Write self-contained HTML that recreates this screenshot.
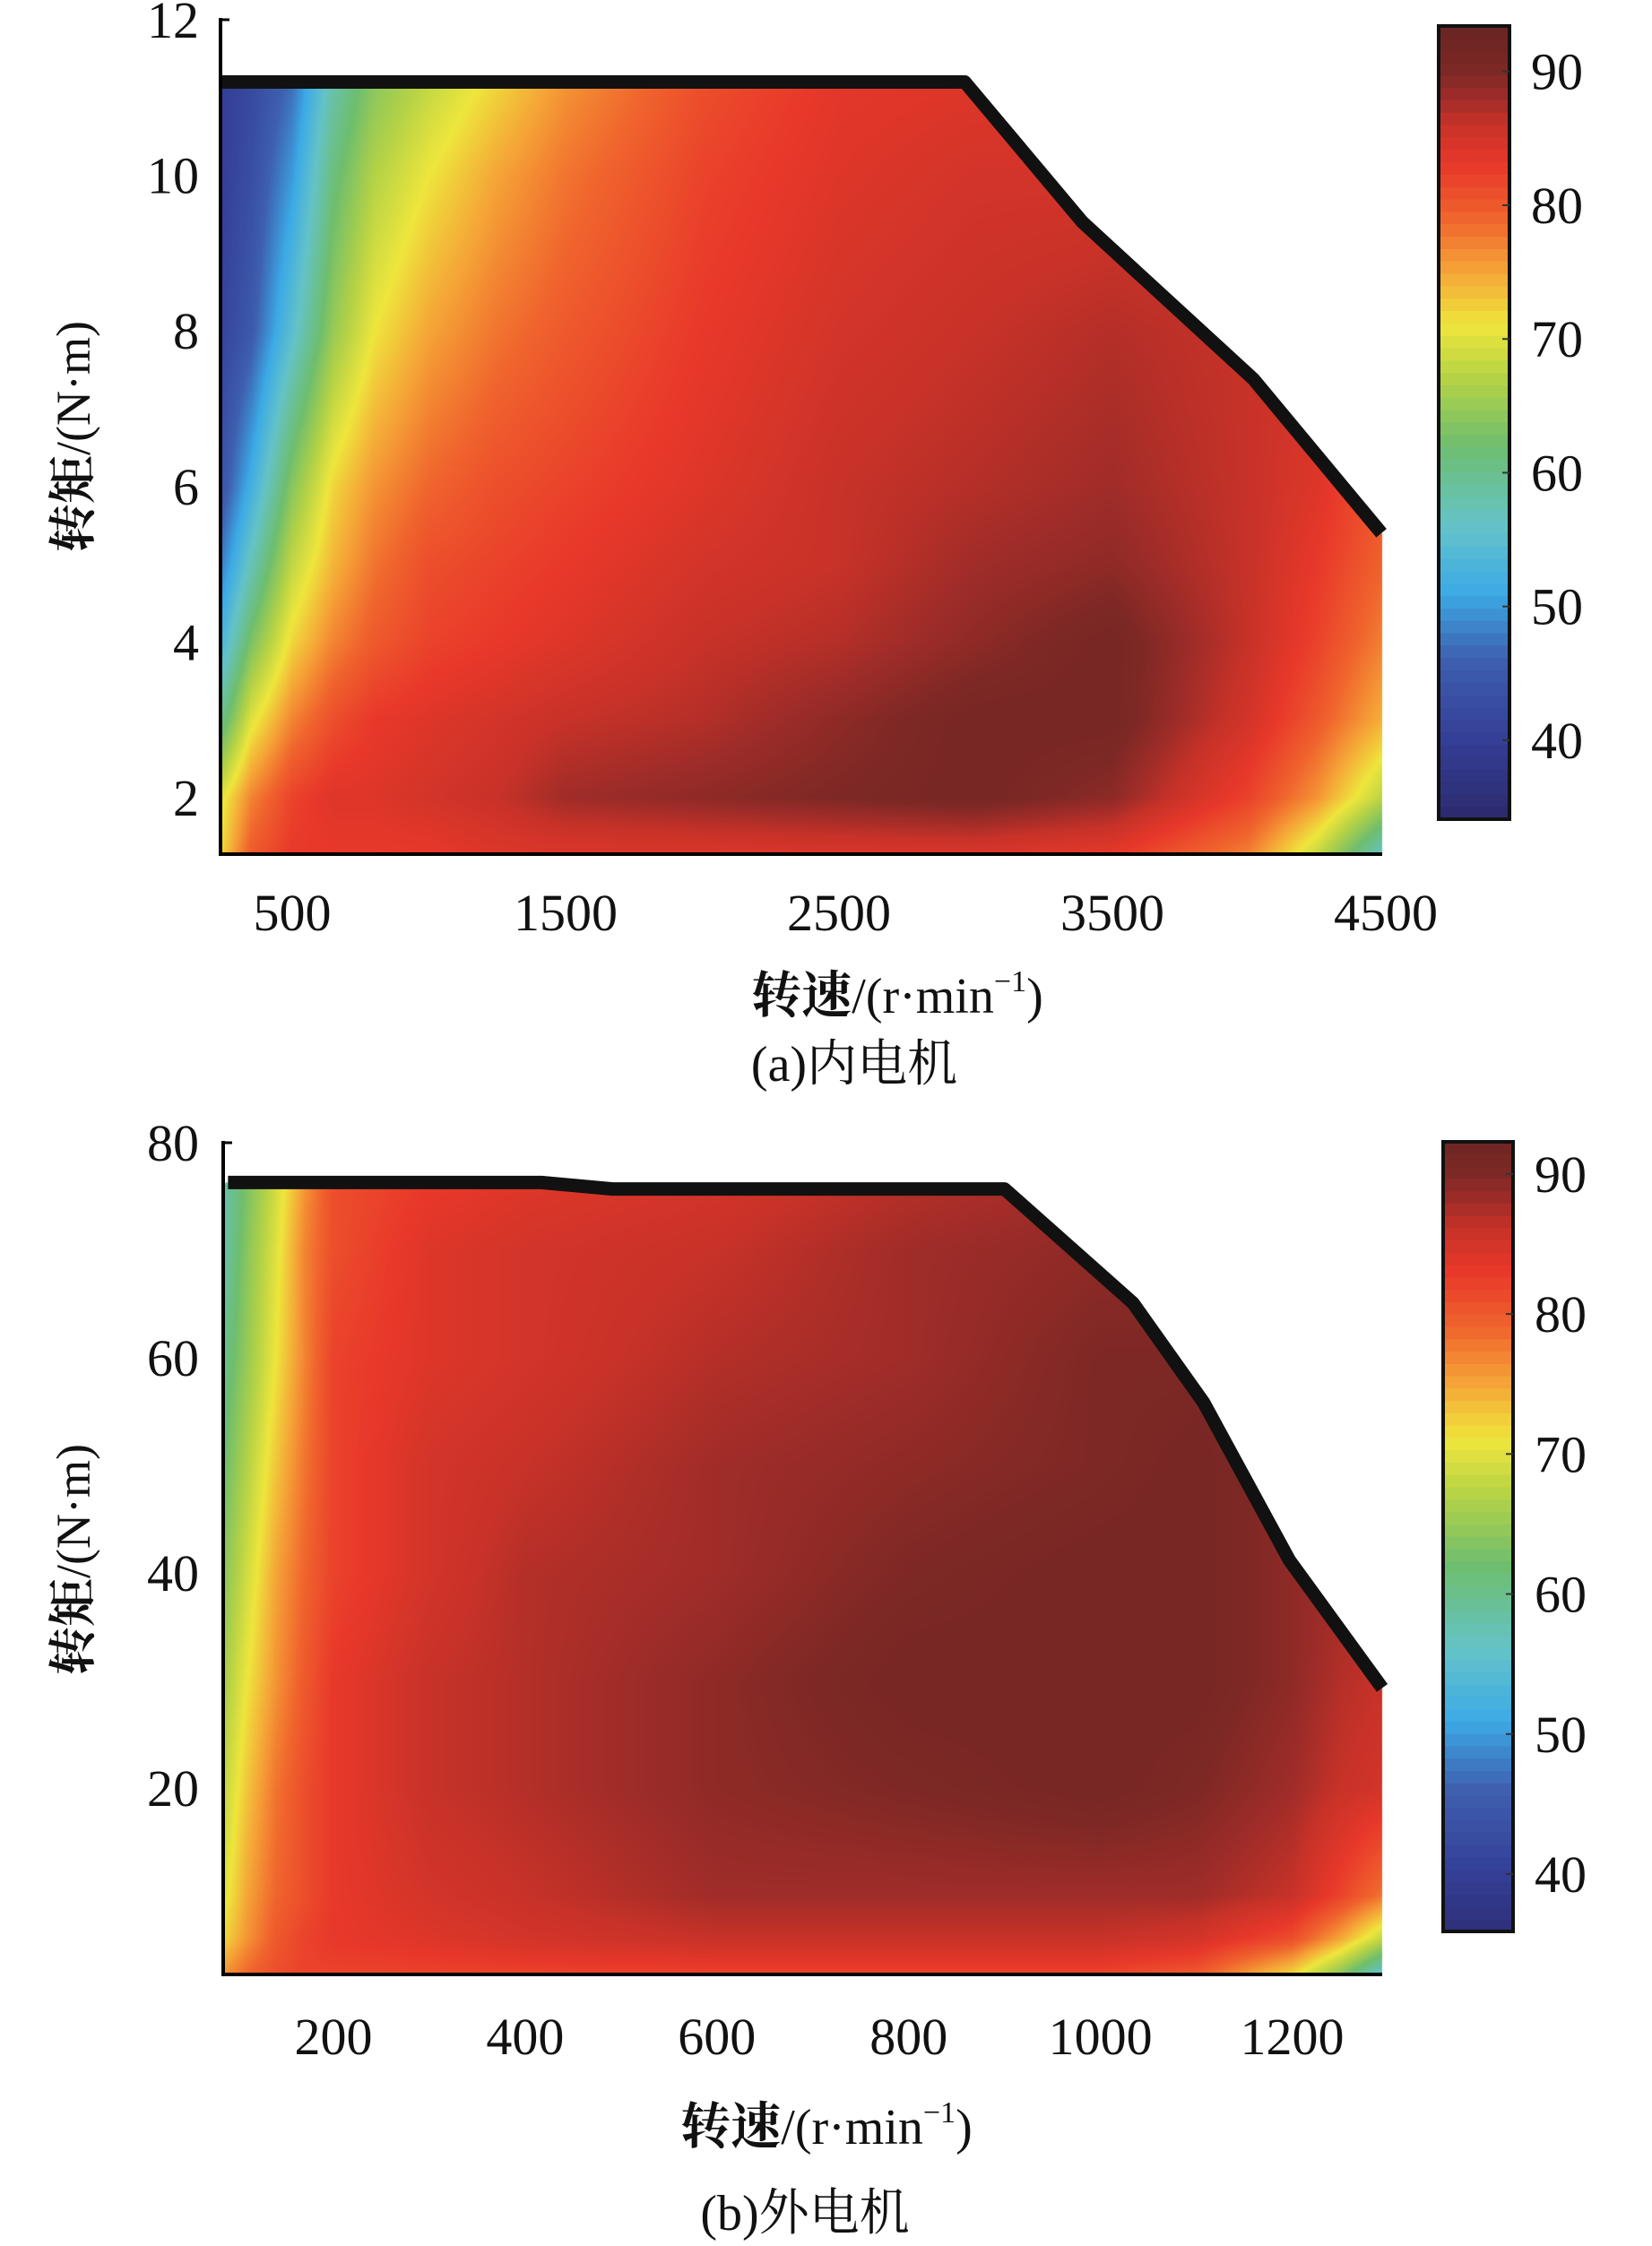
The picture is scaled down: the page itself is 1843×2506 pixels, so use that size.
<!DOCTYPE html>
<html><head><meta charset="utf-8">
<style>
html,body{margin:0;padding:0;background:#fff;}
body{width:1843px;height:2506px;position:relative;overflow:hidden;font-family:"Liberation Serif","Noto Serif CJK SC",serif;}
canvas{position:absolute;left:0;top:0;}
svg{position:absolute;left:0;top:0;}
</style></head>
<body>
<canvas id="cv" width="1843" height="2506"></canvas>
<svg id="sv" width="1843" height="2506"></svg>
<script>
// ---------- Panel (a) data ----------
const aSpeeds = [240,350,500,650,800,1000,1250,1500,2000,2500,3000,3500,4000,4250,4500];
const aTorques = [11.2, 10, 8, 6, 5, 4, 3, 2, 1.25];
const aEff = [
 [40,42,47,58,64,68,72,76,81,83.5,84,84,84,84,84],
 [40,43,50,61,67,71,75,78,82,84,85,85,85,85,85],
 [41,45,55,65,71,75,78,80,83,85,86,87,86,85,84],
 [44,52,64,72,76,79,81,82,84,86,87,88,86,84,80],
 [48,57,68,74,78,81,82,83,85,86,88,89,86,83,79],
 [53,63,72,77,80,82,83,84,86,87,89,91,86,82,77],
 [60,70,77,81,83,84,85,86,87,89,91,91,85,80,74],
 [70,77,82,84,84,85,86,88,89,90,91,89,82,76,67],
 [72,80,83,83,83,83,84,84,84,84,84,83,77,68,55]
];
const aBoundSpeed = [240, 2960, 3390, 4016, 4484];
const aBoundTorque = [11.2, 11.2, 9.4, 7.38, 5.4];
const aXTicks = [500, 1500, 2500, 3500, 4500];
const aYTicks = [2, 4, 6, 8, 10, 12];
const aCbTicks = [40, 50, 60, 70, 80, 90];

// ---------- Panel (b) data ----------
const bSpeeds = [86,110,140,170,200,300,400,600,800,1000,1100,1200,1250,1294];
const bTorques = [76, 70, 60, 50, 40, 30, 20, 10, 6, 2.7];
const bEff = [
 [58,63,69,76,81,83,84,85,87,88,88,88,88,88],
 [58,64,70,77,81,84,85,86,88,89,89,89,89,89],
 [60,65,71,77,82,84,85,87,88,90,90,89,89,89],
 [62,67,73,78,82,85,86,88,89,90,91,89,88,88],
 [64,69,75,79,82,85,87,88,90,91,91,89,88,88],
 [66,71,76,80,83,86,87,89,91,91,91,89,87,86],
 [68,73,78,81,83,86,87,89,90,91,90,88,86,85],
 [70,75,79,81,83,85,86,88,88,88,88,86,82,78],
 [72,76,80,82,83,84,85,86,86,86,85,81,75,68],
 [76,79,81,82,82,82,82,82,82,82,80,72,64,55]
];
const bBoundSpeed = [90, 417, 491, 900, 1034, 1108, 1197, 1294];
const bBoundTorque = [76.3, 76.3, 75.7, 75.7, 65.1, 55.8, 41.2, 29.3];
const bXTicks = [200, 400, 600, 800, 1000, 1200];
const bYTicks = [20, 40, 60, 80];
const bCbTicks = [40, 50, 60, 70, 80, 90];

// ---------- colormap ----------
const cmStops = [
 [33,[42,38,100]],[40,[52,62,150]],[46,[62,95,175]],[51,[60,170,230]],[56,[100,195,200]],
 [62,[110,190,110]],[67,[180,210,70]],[71,[238,230,60]],[75,[245,165,55]],[79,[240,100,45]],
 [83,[232,56,42]],[86,[200,50,40]],[88,[160,44,40]],[90,[125,40,37]],[94,[100,36,34]]
];
function cmap(v){
  if(v<=cmStops[0][0]) return cmStops[0][1];
  for(let i=1;i<cmStops.length;i++){
    if(v<=cmStops[i][0]){
      const a=cmStops[i-1],b=cmStops[i],t=(v-a[0])/(b[0]-a[0]);
      return a[1].map((c,k)=>Math.round(c+(b[1][k]-c)*t));
    }
  }
  return cmStops[cmStops.length-1][1];
}

const cv=document.getElementById('cv'), ctx=cv.getContext('2d');
const sv=document.getElementById('sv'), NS='http://www.w3.org/2000/svg';
function mk(tag,attrs,parent){const e=document.createElementNS(NS,tag);for(const k in attrs)e.setAttribute(k,attrs[k]);(parent||sv).appendChild(e);return e;}
function locate(arr,v){
  const asc=arr[arr.length-1]>arr[0];
  for(let i=0;i<arr.length-1;i++){
    const a=arr[i],b=arr[i+1];
    if(asc? v<=b : v>=b){let t=(v-a)/(b-a);return [i,Math.max(0,Math.min(1,t))];}
  }
  return [arr.length-2,1];
}

function panel(cfg){
  const {speeds,torques,eff,bs,bt,xs,ys,x0,y0,px0,px1,py0,py1,cb,xticks,yticks,cbticks,cbmin,cbmax,tag}=cfg;
  const sx=n=>x0.px+(n-x0.v)*x0.k, sy=t=>y0.px+(y0.v-t)*y0.k;
  const W=Math.round(px1-px0),H=Math.round(py1-py0);
  const img=ctx.createImageData(W,H);
  const colIdx=[];for(let x=0;x<W;x++){colIdx.push(locate(speeds,x0.v+(px0+x+0.5-x0.px)/x0.k));}
  for(let y=0;y<H;y++){
    const tq=y0.v-(py0+y+0.5-y0.px)/y0.k;
    const [r,u]=locate(torques,tq);
    for(let x=0;x<W;x++){
      const [c,t]=colIdx[x];
      const v=(eff[r][c]*(1-t)+eff[r][c+1]*t)*(1-u)+(eff[r+1][c]*(1-t)+eff[r+1][c+1]*t)*u;
      const col=cmap(v),i=(y*W+x)*4;
      img.data[i]=col[0];img.data[i+1]=col[1];img.data[i+2]=col[2];img.data[i+3]=255;
    }
  }
  ctx.putImageData(img,Math.round(px0),Math.round(py0));
  ctx.fillStyle='#fff';ctx.beginPath();ctx.moveTo(px0-2,py0-60);
  ctx.lineTo(px0-2,sy(bt[0]));for(let i=0;i<bs.length;i++)ctx.lineTo(sx(bs[i]),sy(bt[i]));
  ctx.lineTo(px1+40,sy(bt[bt.length-1]));ctx.lineTo(px1+40,py0-60);ctx.closePath();ctx.fill();
  const g=mk('g',{});
  mk('polyline',{points:bs.map((s,i)=>sx(s)+','+sy(bt[i])).join(' '),fill:'none',stroke:'#111',"stroke-width":15,"stroke-linejoin":"round"},g);
  const ax=mk('g',{});
  mk('line',{x1:px0,y1:py0-2,x2:px0,y2:py1+2,stroke:'#000','stroke-width':4},ax);
  mk('line',{x1:px0-2,y1:py1,x2:px1,y2:py1,stroke:'#000','stroke-width':4},ax);
  mk('line',{x1:px0,y1:py0,x2:px0+10,y2:py0,stroke:'#000','stroke-width':3},ax);
  xticks.forEach(v=>{const t=mk('text',{x:sx(v),y:xs.ly,'font-size':58,'text-anchor':'middle',fill:'#111'},ax);t.textContent=v;
    });
  yticks.forEach(v=>{const t=mk('text',{x:ys.lx,y:sy(v)+20,'font-size':58,'text-anchor':'end',fill:'#111'},ax);t.textContent=v;
    });
  const xt=mk('text',{x:xs.tx,y:xs.ty,'font-size':56,'text-anchor':'middle',fill:'#111'});
  
  xt.innerHTML='<tspan font-weight="bold" font-family="Noto Serif CJK SC, serif">转速</tspan>/(r·min<tspan font-size="34" dy="-24">−1</tspan><tspan dy="24">)</tspan>';
  const yt=mk('text',{x:0,y:0,'font-size':54,'text-anchor':'middle',fill:'#111',transform:`translate(${ys.tx},${ys.ty}) rotate(-90)`});
  
  yt.innerHTML='<tspan font-weight="bold" font-family="Noto Serif CJK SC, serif">转矩</tspan>/(N·m)';
  const cp=mk('text',{x:xs.cx,y:xs.cy,'font-size':56,'text-anchor':'middle',fill:'#111'});
  
  cp.innerHTML=cfg.caption;
  const cg=mk('g',{});
  const steps=64,h=(cb.y1-cb.y0)/steps;
  for(let i=0;i<steps;i++){const v=cbmax-(i+0.5)*(cbmax-cbmin)/steps;const c=cmap(v);
    mk('rect',{x:cb.x0,y:cb.y0+i*h,width:cb.x1-cb.x0,height:h+1,fill:`rgb(${c})`},cg);}
  mk('rect',{x:cb.x0,y:cb.y0,width:cb.x1-cb.x0,height:cb.y1-cb.y0,fill:'none',stroke:'#111','stroke-width':4},cg);
  const cy=v=>cb.y0+(cbmax-v)/(cbmax-cbmin)*(cb.y1-cb.y0);
  cbticks.forEach(v=>{mk('line',{x1:cb.x1-8,y1:cy(v),x2:cb.x1,y2:cy(v),stroke:'#333','stroke-width':2},cg);
    const t=mk('text',{x:cb.x1+24,y:cy(v)+20,'font-size':58,fill:'#111'},cg);t.textContent=v;
    });
}

panel({tag:'panel-a',speeds:aSpeeds,torques:aTorques,eff:aEff,bs:aBoundSpeed,bt:aBoundTorque,
  x0:{px:326,v:500,k:0.305},y0:{px:22,v:12,k:86.8},
  px0:246,px1:1542,py0:22,py1:953,
  xs:{ly:1038,tx:1001,ty:1130,cx:953,cy:1206},ys:{lx:222,tx:100,ty:487},
  cb:{x0:1605,x1:1684,y0:29,y1:914},xticks:aXTicks,yticks:aYTicks,cbticks:aCbTicks,cbmin:34.1,cbmax:93.4,
  caption:'(a)<tspan font-family="Noto Serif CJK SC, serif">内电机</tspan>'});
panel({tag:'panel-b',speeds:bSpeeds,torques:bTorques,eff:bEff,bs:bBoundSpeed,bt:bBoundTorque,
  x0:{px:372,v:200,k:1.0695},y0:{px:1275,v:80,k:12.0},
  px0:249,px1:1542,py0:1275,py1:2203,
  xs:{ly:2292,tx:922,ty:2392,cx:898,cy:2488},ys:{lx:222,tx:100,ty:1740},
  cb:{x0:1610,x1:1688,y0:1274,y1:2155},xticks:bXTicks,yticks:bYTicks,cbticks:bCbTicks,cbmin:35.9,cbmax:92.3,
  caption:'(b)<tspan font-family="Noto Serif CJK SC, serif">外电机</tspan>'});
</script>
</body></html>
